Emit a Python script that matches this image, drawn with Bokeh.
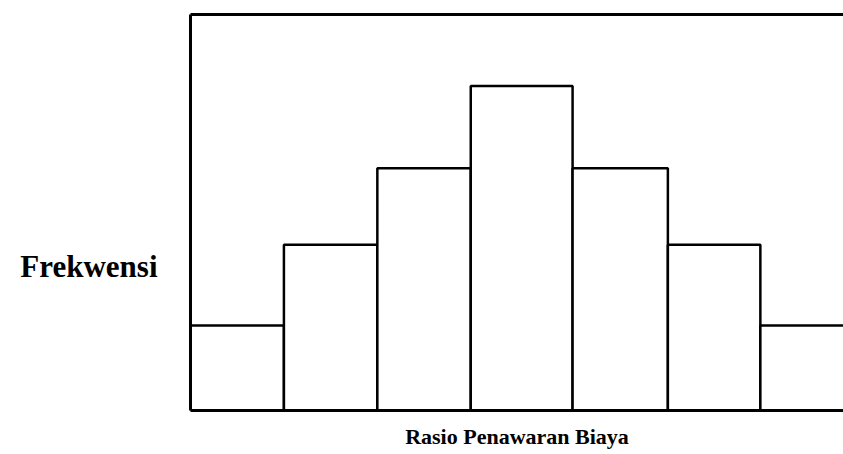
from bokeh.plotting import figure
from bokeh.models import LinearAxis, FixedTicker, Range1d, ColumnDataSource
from bokeh.embed import file_html
from bokeh.resources import INLINE

# histogram: bin edges (arbitrary ratio units) and frequencies
bin_left = [0.0, 1.0, 2.0, 3.0, 4.09, 5.11, 6.10]
bin_right = [1.0, 2.0, 3.0, 4.09, 5.11, 6.10, 7.3]
frequency = [1.0, 1.95, 2.85, 3.82, 2.85, 1.95, 1.0]

x_label = "Rasio Penawaran Biaya"
y_label = "Frekwensi"

src = ColumnDataSource(dict(left=bin_left, right=bin_right, top=frequency,
                            bottom=[0] * len(frequency)))

p = figure(width=843, height=454, output_backend="svg", toolbar_location=None,
           x_range=Range1d(0, 6.99), y_range=Range1d(0, 4.66),
           x_axis_location=None, y_axis_location=None,
           min_border_left=190, min_border_right=0, min_border_top=14,
           min_border_bottom=44)
p.outline_line_color = None
p.grid.visible = False
p.background_fill_color = "white"
p.border_fill_color = "white"

p.quad(left="left", right="right", top="top", bottom="bottom", source=src,
       fill_color="white", line_color="black", line_width=2.5)

def bare_axis(**kw):
    ax = LinearAxis(ticker=FixedTicker(ticks=[]), axis_line_color="black",
                    axis_line_width=3, major_tick_line_color=None,
                    minor_tick_line_color=None, **kw)
    return ax

bottom = bare_axis(axis_label=x_label, axis_label_text_font="Liberation Serif",
                   axis_label_text_font_style="bold",
                   axis_label_text_font_size="22px", axis_label_standoff=13,
                   axis_label_text_color="black")
p.add_layout(bottom, "below")

# label sits below the frame's middle, so pad it with leading blank lines
left = bare_axis(axis_label="\n\n\n" + y_label,
                 axis_label_orientation="horizontal",
                 axis_label_text_font="Liberation Serif",
                 axis_label_text_font_style="bold",
                 axis_label_text_font_size="31px", axis_label_standoff=33,
                 axis_label_text_line_height=1.03,
                 axis_label_text_color="black")
p.add_layout(left, "left")
p.add_layout(bare_axis(), "above")

open("out.html", "w").write(file_html(p, INLINE))
